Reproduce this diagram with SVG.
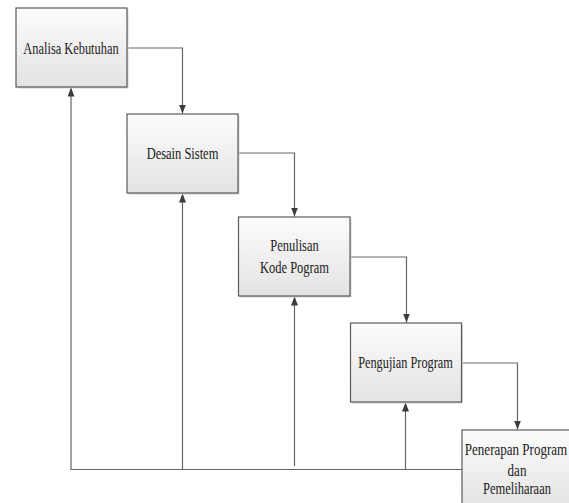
<svg xmlns="http://www.w3.org/2000/svg" width="569" height="503" viewBox="0 0 569 503">
<defs>
<linearGradient id="g" x1="0" y1="0" x2="0" y2="1">
<stop offset="0" stop-color="#fcfcfc"/>
<stop offset="1" stop-color="#e3e3e3"/>
</linearGradient>
<marker id="ah" markerUnits="userSpaceOnUse" markerWidth="10" markerHeight="8" refX="9" refY="3.5" orient="auto">
<path d="M0,0 L9,3.5 L0,7 z" fill="#3c3c3c"/>
</marker>
</defs>
<style>
.box{fill:url(#g);stroke:#5a5a5a;stroke-width:1.2}
.sh{fill:#d4d4d4}
.t{font-size:16px;fill:#222;text-anchor:middle}
.c{fill:none;stroke:#666;stroke-width:1.2}
.a{marker-end:url(#ah)}
</style>
<rect width="569" height="503" fill="#fff"/>
<g id="connectors">
<path class="c a" d="M127,48 H182.5 V113.5"/>
<path class="c a" d="M238.5,153 H294.5 V216.5"/>
<path class="c a" d="M350,257 H406.5 V322.5"/>
<path class="c a" d="M461.5,363 H517.5 V429.5"/>
<path class="c a" d="M462,469.5 H71 V87.5"/>
<path class="c a" d="M182.5,469.5 V193.5"/>
<path class="c a" d="M294.5,466 V296.5"/>
<path class="c a" d="M405.5,469.5 V402.5"/>
</g>
<g font-family="'Liberation Serif', 'DejaVu Serif', serif">
<g id="n1">
<rect class="sh" x="17.5" y="9.5" width="111" height="79"/>
<rect class="box" x="16" y="8" width="111" height="79"/>
<text class="t" transform="matrix(0.775,0,0,1,71,53.5)">Analisa Kebutuhan</text>
</g>
<g id="n2">
<rect class="sh" x="128.5" y="115.5" width="111" height="79"/>
<rect class="box" x="127" y="114" width="111" height="79"/>
<text class="t" transform="matrix(0.78,0,0,1,182.5,158.5)">Desain Sistem</text>
</g>
<g id="n3">
<rect class="sh" x="240" y="218.5" width="111.5" height="79"/>
<rect class="box" x="238.5" y="217" width="111.5" height="79"/>
<text class="t" transform="matrix(0.78,0,0,1,294.5,251)">Penulisan</text>
<text class="t" transform="matrix(0.78,0,0,1,294.5,272.5)">Kode Pogram</text>
</g>
<g id="n4">
<rect class="sh" x="352" y="324.5" width="111" height="79"/>
<rect class="box" x="350.5" y="323" width="111" height="79"/>
<text class="t" transform="matrix(0.77,0,0,1,405.5,368)">Pengujian Program</text>
</g>
<g id="n5">
<rect class="sh" x="463.5" y="431.5" width="111" height="79"/>
<rect class="box" x="462" y="430" width="111" height="79"/>
<text class="t" transform="matrix(0.815,0,0,1,516,455)">Penerapan Program</text>
<text class="t" transform="matrix(0.815,0,0,1,517,475.5)">dan</text>
<text class="t" transform="matrix(0.78,0,0,1,517,494)">Pemeliharaan</text>
</g>
</g>
</svg>
